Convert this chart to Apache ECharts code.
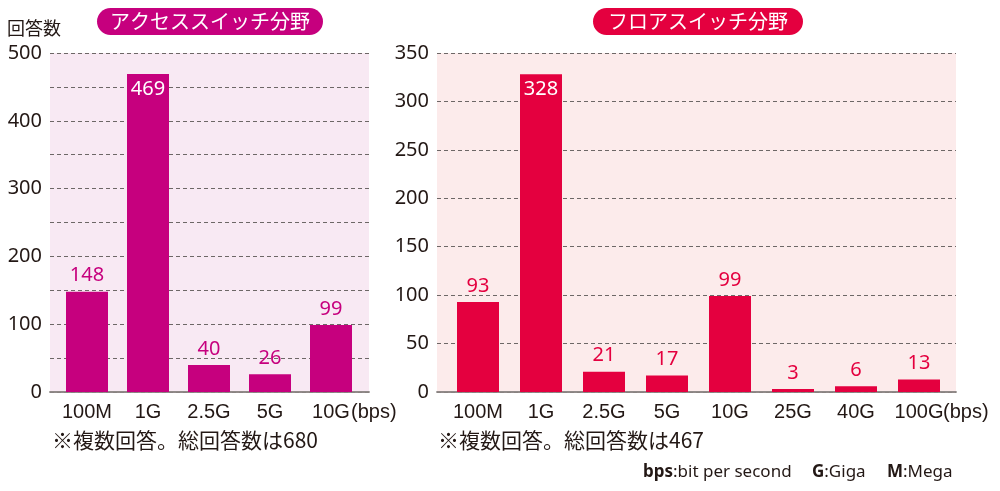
<!DOCTYPE html>
<html><head><meta charset="utf-8">
<script src="https://cdn.jsdelivr.net/npm/echarts@6/dist/echarts.min.js"></script>
<style>html,body{margin:0;padding:0;background:#fff}#c{width:1000px;height:491px}</style>
</head><body><div id="c"></div>
<script>
const accessCats = ['100M','1G','2.5G','5G','10G'];
const accessVals = [148,469,40,26,99];
const floorCats = ['100M','1G','2.5G','5G','10G','25G','40G','100G'];
const floorVals = [93,328,21,17,99,3,6,13];
const accessTitle = 'アクセススイッチ分野';
const floorTitle = 'フロアスイッチ分野';
const accessNote = '※複数回答。総回答数は680';
const floorNote = '※複数回答。総回答数は467';
const yTitle = '回答数';

const FONT = '"Noto Sans CJK JP", "Noto Sans", sans-serif';
const NUM = '"Noto Sans", sans-serif';
const LAT = '"Liberation Sans", Arial, sans-serif';
const C1 = '#c6007e', C2 = '#e4003f';
const BG1 = '#f8e9f3', BG2 = '#fcebeb';
const TXT = '#231815';

function bgGrid(gi, max, labelEvery) {
  return {
    xTop: {gridIndex: gi, type:'value', position:'top', min:0, max:1, show:true,
      axisLine:{show:true, lineStyle:{color:'#8a8483', width:1.5}}, axisTick:{show:false}, axisLabel:{show:false}, splitLine:{show:false}},
    xBot: {gridIndex: gi, type:'value', position:'bottom', min:0, max:1, show:true,
      axisLine:{show:true, lineStyle:{color:'#8a8483', width:1.5}}, axisTick:{show:false}, axisLabel:{show:false}, splitLine:{show:false}},
    y: {gridIndex: gi, type:'value', min:0, max:max, interval:50,
      axisLine:{show:false}, axisTick:{show:false},
      axisLabel:{show:true, color:TXT, fontSize:20, fontFamily:NUM, margin:8,
        formatter: v => (v % labelEvery === 0 ? String(v) : '')},
      splitLine:{show:true, lineStyle:{color:'#6d6766', type:[4,3], width:1}}}
  };
}
const b0 = bgGrid(0, 500, 100);
const b2 = bgGrid(2, 350, 50);

function barSeries(xi, yi, vals, color, bigIdx) {
  return {
    type:'bar', xAxisIndex:xi, yAxisIndex:yi, barWidth:42,
    data: vals.map((v,i) => ({value:v, label: i===bigIdx ? {position:'insideTop', distance:5, color:'#fff'} : {}})),
    itemStyle:{color:color},
    label:{show:true, position:'top', distance:6, color:color, fontSize:20, fontFamily:NUM},
    silent:true, animation:false
  };
}
function catAxis(gi, cats) {
  return {gridIndex:gi, type:'category', data:cats, axisLine:{show:false}, axisTick:{show:false},
    axisLabel:{color:TXT, fontSize:20, fontFamily:LAT, margin:10, interval:0, hideOverlap:false}, splitLine:{show:false}};
}
function hiddenY(gi, max) {
  return {gridIndex:gi, type:'value', min:0, max:max, show:false, splitLine:{show:false}};
}

const option = {
  animation:false,
  grid:[
    {left:50, width:319, top:53, height:339, show:true, backgroundColor:BG1, borderWidth:0},
    {left:56.5, width:305, top:53, height:339},
    {left:437, width:519, top:53, height:339, show:true, backgroundColor:BG2, borderWidth:0},
    {left:446.5, width:504, top:53, height:339}
  ],
  xAxis:[b0.xTop, b0.xBot, catAxis(1, accessCats), b2.xTop, b2.xBot, catAxis(3, floorCats)],
  yAxis:[b0.y, hiddenY(1,500), b2.y, hiddenY(3,350)],
  series:[
    barSeries(2, 1, accessVals, C1, 1),
    barSeries(5, 3, floorVals, C2, 1)
  ],
  graphic:[
    {type:'text', left:7, top:19, style:{text:yTitle, fill:TXT, font:'18px '+FONT}},
    {type:'rect', shape:{x:97, y:8, width:226, height:27, r:13.5}, style:{fill:C1}},
    {type:'text', style:{text:accessTitle, x:210, y:21.5, align:'center', verticalAlign:'middle', fill:'#fff', font:'20px '+FONT}},
    {type:'rect', shape:{x:593, y:8, width:210, height:27, r:13.5}, style:{fill:C2}},
    {type:'text', style:{text:floorTitle, x:698, y:21.5, align:'center', verticalAlign:'middle', fill:'#fff', font:'20px '+FONT}},
    {type:'text', style:{text:'(bps)', x:351, y:412, verticalAlign:'middle', fill:TXT, font:'20px '+LAT}},
    {type:'text', style:{text:'(bps)', x:943, y:412, verticalAlign:'middle', fill:TXT, font:'20px '+LAT}},
    {type:'text', style:{text:accessNote, x:52, y:440, verticalAlign:'middle', fill:TXT, font:'21px '+FONT}},
    {type:'text', style:{text:floorNote, x:438, y:440, verticalAlign:'middle', fill:TXT, font:'21px '+FONT}},
    {type:'text', style:{x:643, y:472, verticalAlign:'middle', text:'{b|bps}{n|:bit per second}',
      rich:{b:{fontWeight:'bold', fontSize:17, fontFamily:NUM, fill:TXT}, n:{fontSize:17, fontFamily:NUM, fill:TXT}}}},
    {type:'text', style:{x:812, y:472, verticalAlign:'middle', text:'{b|G}{n|:Giga}',
      rich:{b:{fontWeight:'bold', fontSize:17, fontFamily:NUM, fill:TXT}, n:{fontSize:17, fontFamily:NUM, fill:TXT}}}},
    {type:'text', style:{x:887, y:472, verticalAlign:'middle', text:'{b|M}{n|:Mega}',
      rich:{b:{fontWeight:'bold', fontSize:17, fontFamily:NUM, fill:TXT}, n:{fontSize:17, fontFamily:NUM, fill:TXT}}}}
  ]
};
const chart = echarts.init(document.getElementById('c'), null, {renderer:'canvas'});
chart.setOption(option);
</script></body></html>
